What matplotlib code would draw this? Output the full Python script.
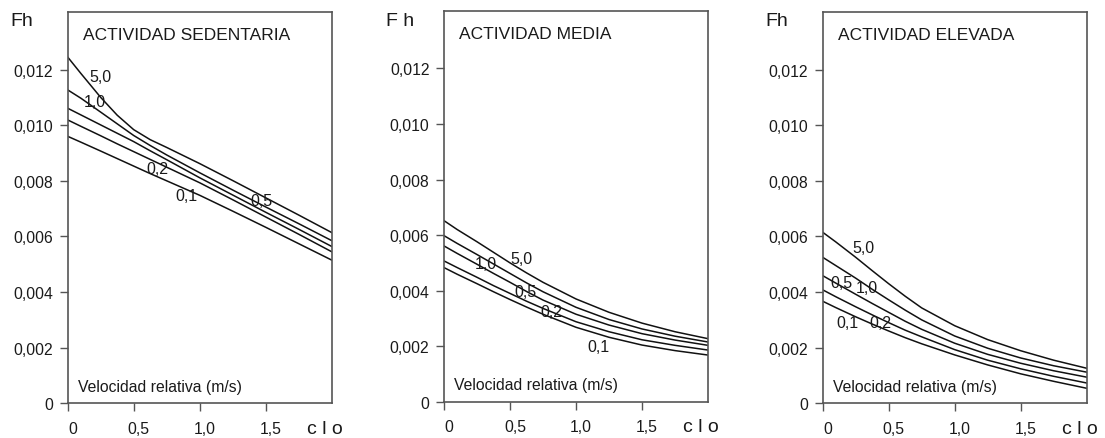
import numpy as np
import matplotlib.pyplot as plt
from matplotlib.transforms import ScaledTranslation

plt.rcParams["font.family"] = ["Liberation Sans", "DejaVu Sans"]

# aislamiento de la ropa (clo)
clo = [0, 0.1, 0.25, 0.375, 0.5, 0.625, 0.75, 1.0, 1.25, 1.5, 1.75, 2.0]
# velocidad relativa del aire (m/s), una curva por valor
velocidades = ["5,0", "1,0", "0,5", "0,2", "0,1"]

# Fh en milesimas, en el orden de velocidades
fh_sedentaria = [
    [12.45, 11.86, 11.00, 10.36, 9.84, 9.48, 9.20, 8.62, 8.01, 7.39, 6.77, 6.14],
    [11.27, 10.97, 10.47, 10.05, 9.63, 9.27, 8.93, 8.29, 7.67, 7.06, 6.46, 5.85],
    [10.61, 10.37, 10.01, 9.71, 9.41, 9.08, 8.76, 8.11, 7.49, 6.87, 6.26, 5.64],
    [10.19, 9.96, 9.62, 9.33, 9.05, 8.77, 8.49, 7.93, 7.32, 6.70, 6.08, 5.45],
    [9.60, 9.39, 9.07, 8.80, 8.53, 8.26, 8.00, 7.48, 6.91, 6.33, 5.74, 5.15],
]
fh_media = [
    [6.52, 6.20, 5.76, 5.38, 5.00, 4.64, 4.30, 3.70, 3.22, 2.83, 2.52, 2.27],
    [5.98, 5.70, 5.30, 4.96, 4.62, 4.28, 3.96, 3.40, 2.96, 2.62, 2.36, 2.15],
    [5.61, 5.34, 4.95, 4.62, 4.30, 3.97, 3.66, 3.15, 2.76, 2.45, 2.22, 2.03],
    [5.07, 4.83, 4.48, 4.18, 3.90, 3.62, 3.36, 2.88, 2.52, 2.23, 2.03, 1.86],
    [4.83, 4.59, 4.25, 3.96, 3.68, 3.41, 3.15, 2.68, 2.32, 2.04, 1.84, 1.68],
]
fh_elevada = [
    [6.15, 5.80, 5.25, 4.77, 4.30, 3.85, 3.43, 2.79, 2.29, 1.89, 1.55, 1.26],
    [5.25, 4.95, 4.50, 4.10, 3.72, 3.35, 3.00, 2.42, 1.98, 1.63, 1.35, 1.12],
    [4.59, 4.32, 3.92, 3.59, 3.27, 2.95, 2.66, 2.16, 1.76, 1.44, 1.17, 0.94],
    [4.08, 3.83, 3.47, 3.18, 2.90, 2.63, 2.39, 1.93, 1.55, 1.24, 0.97, 0.73],
    [3.67, 3.44, 3.11, 2.85, 2.60, 2.36, 2.14, 1.74, 1.38, 1.06, 0.79, 0.54],
]

titulos = ["ACTIVIDAD SEDENTARIA", "ACTIVIDAD MEDIA", "ACTIVIDAD ELEVADA"]
ejes_y = ["Fh", "F h", "Fh"]

# donde va cada etiqueta de velocidad (clo, Fh en milesimas)
pos_sedentaria = [(0.245, 11.76), (0.207, 10.86), (1.464, 7.29), (0.68, 8.46), (0.896, 7.49)]
pos_media = [(0.583, 5.17), (0.318, 4.99), (0.62, 3.96), (0.81, 3.24), (1.17, 1.97)]
pos_elevada = [(0.31, 5.59), (0.333, 4.15), (0.144, 4.33), (0.44, 2.89), (0.188, 2.89)]

yticks = [0, 0.002, 0.004, 0.006, 0.008, 0.010, 0.012]
ytick_labels = ["0", "0,002", "0,004", "0,006", "0,008", "0,010", "0,012"]
xticks = [0, 0.5, 1.0, 1.5]
xtick_labels = ["0", "0,5", "1,0", "1,5"]

fig = plt.figure(figsize=(11.05, 4.39), dpi=100)
W, H = 1105, 439
# posicion de cada panel en pixeles: izquierda, abajo, ancho, alto
cajas = [(67.7, 404.3, 264, 391), (444, 402.7, 264, 390.4), (822.7, 404.3, 264, 391)]
fh_x = [10, 386, 765]

gris = "#555555"
texto = "#1a1a1a"

paneles = [(fh_sedentaria, pos_sedentaria), (fh_media, pos_media), (fh_elevada, pos_elevada)]

for i, (datos, posiciones) in enumerate(paneles):
    left, bottom, w, h = cajas[i]
    ax = fig.add_axes([left / W, (H - bottom) / H, w / W, h / H])

    for curva in datos:
        ax.plot(clo, np.array(curva) * 1e-3, color="#111111", lw=1.1)

    for etiqueta, (xv, yv) in zip(velocidades, posiciones):
        ax.text(xv, yv * 1e-3, etiqueta, fontsize=11.5, color=texto,
                ha="center", va="center")

    ax.set_xlim(0, 2.0)
    ax.set_ylim(0, 0.01406)
    ax.set_yticks(yticks)
    ax.set_yticklabels(ytick_labels)
    ax.set_xticks(xticks)
    ax.set_xticklabels(xtick_labels)
    ax.tick_params(axis="both", direction="out", length=5.5, width=1.0,
                   color=gris, labelsize=11.3, labelcolor=texto)
    ax.tick_params(axis="y", pad=5)
    ax.tick_params(axis="x", pad=7)
    # las etiquetas del eje x van algo corridas a la derecha
    desplaza = ScaledTranslation(5 / 100, 0, fig.dpi_scale_trans)
    for lab in ax.get_xticklabels():
        lab.set_transform(lab.get_transform() + desplaza)

    for spine in ax.spines.values():
        spine.set_color(gris)
        spine.set_linewidth(1.2)

    ax.text(15 / w, 1 - 22 / h, titulos[i], transform=ax.transAxes,
            fontsize=12.5, color=texto, ha="left", va="center")
    ax.text(10 / w, 17 / h, "Velocidad relativa (m/s)", transform=ax.transAxes,
            fontsize=11.3, color=texto, ha="left", va="center")
    ax.text(1 + (-7) / w, -25 / h, "c l o", transform=ax.transAxes,
            fontsize=14, color=texto, ha="center", va="center")

    fig.text(fh_x[i] / W, 1 - 21.5 / H, ejes_y[i], fontsize=14, color=texto,
             ha="left", va="center")

fig.savefig("out.png", dpi=100)
